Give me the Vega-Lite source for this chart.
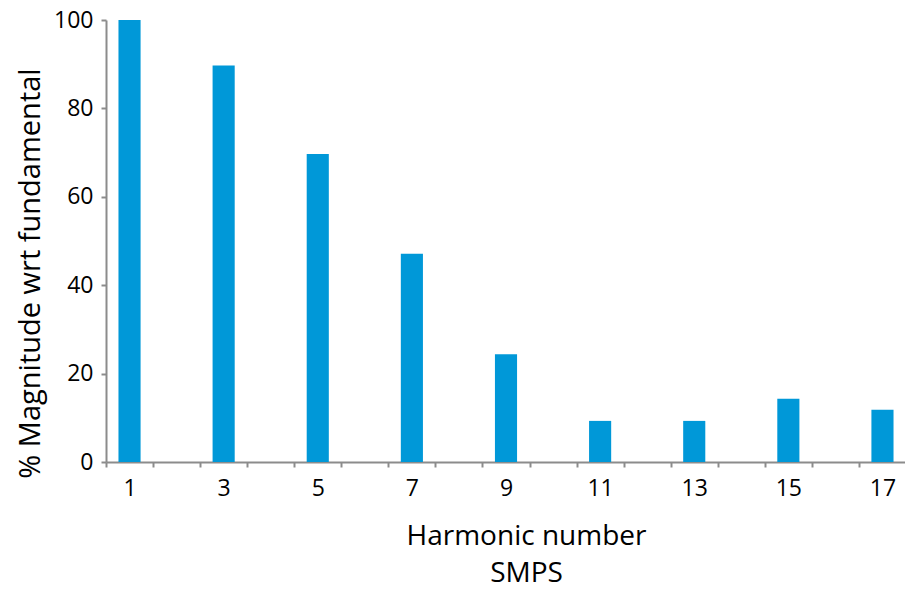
{
  "$schema": "https://vega.github.io/schema/vega-lite/v6.json",
  "autosize": "none",
  "padding": {"left": 106, "top": 20, "right": 0, "bottom": 129},
  "width": 800,
  "height": 442,
  "background": "white",
  "config": {"view": {"stroke": null}, "font": "Open Sans"},
  "data": {"values": [
    {"harmonic": 1, "magnitude": 100},
    {"harmonic": 3, "magnitude": 89.7},
    {"harmonic": 5, "magnitude": 69.7},
    {"harmonic": 7, "magnitude": 47.1},
    {"harmonic": 9, "magnitude": 24.4},
    {"harmonic": 11, "magnitude": 9.3},
    {"harmonic": 13, "magnitude": 9.3},
    {"harmonic": 15, "magnitude": 14.3},
    {"harmonic": 17, "magnitude": 11.8}
  ]},
  "mark": {"type": "bar", "color": "#0098d8", "width": {"band": 0.47}},
  "encoding": {
    "x": {
      "field": "harmonic", "type": "ordinal",
      "scale": {"domain": [1,2,3,4,5,6,7,8,9,10,11,12,13,14,15,16,17], "paddingInner": 0, "paddingOuter": 0},
      "axis": {
        "labelAngle": 0,
        "labelExpr": "datum.value % 2 == 1 ? datum.label : ''",
        "tickBand": "extent",
        "domainColor": "#8c8c8c", "domainWidth": 2,
        "tickColor": "#8c8c8c", "tickWidth": 2, "tickSize": 5,
        "labelFontSize": 23, "labelColor": "#000", "labelPadding": 10, "labelFont": "Open Sans",
        "title": ["Harmonic number", "SMPS"],
        "titleFontSize": 28, "titleFontWeight": "normal", "titleColor": "#000", "titleFont": "Open Sans",
        "titleX": 420, "titleY": 60, "titleAlign": "center", "titleBaseline": "top", "titleLineHeight": 37
      }
    },
    "y": {
      "field": "magnitude", "type": "quantitative",
      "scale": {"domain": [0, 100]},
      "axis": {
        "values": [0, 20, 40, 60, 80, 100],
        "grid": false,
        "domainColor": "#8c8c8c", "domainWidth": 2,
        "tickColor": "#8c8c8c", "tickWidth": 2, "tickSize": 5,
        "labelFontSize": 23, "labelColor": "#000", "labelPadding": 8, "labelFont": "Open Sans",
        "title": "% Magnitude wrt fundamental",
        "titleFontSize": 29, "titleFontWeight": "normal", "titleColor": "#000", "titleFont": "Open Sans",
        "titleX": -76, "titleY": 253, "titleAngle": 270, "titleAlign": "center", "titleBaseline": "middle"
      }
    }
  }
}
